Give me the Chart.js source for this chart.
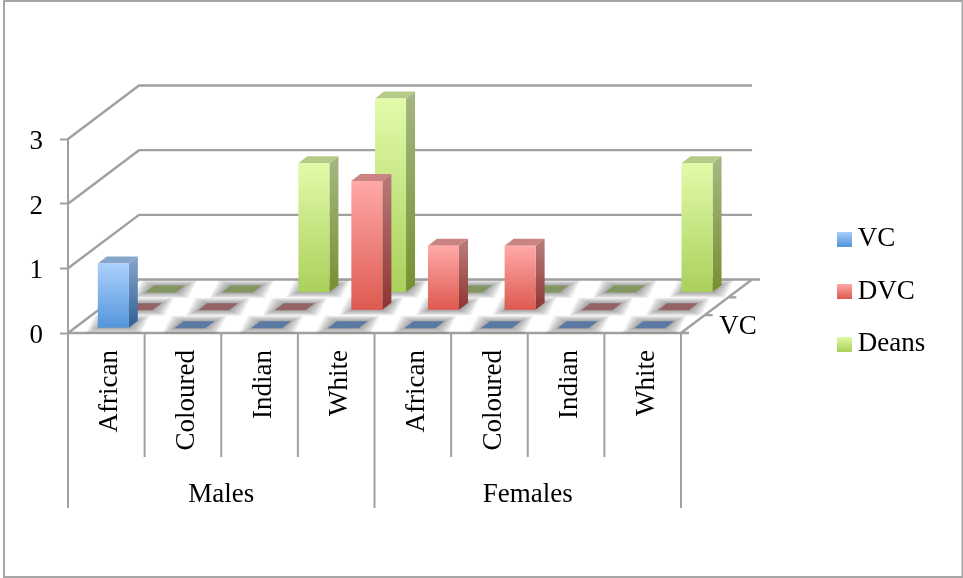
<!DOCTYPE html>
<html>
<head>
<meta charset="utf-8">
<title>Leadership by race and gender</title>
<script src="https://cdn.jsdelivr.net/npm/chart.js@4/dist/chart.umd.js"></script>
<style>
    html, body { margin: 0; padding: 0; background: #fff; }
    #wrap { width: 963px; height: 578px; position: relative; }
</style>
</head>
<body>
<div id="wrap"><canvas id="chart"></canvas></div>
<script>
const categories = ["African", "Coloured", "Indian", "White", "African", "Coloured", "Indian", "White"];
const groupLabels = ["Males", "Females"];
const yTicks = [0, 1, 2, 3];
const seriesNames = ["VC", "DVC", "Deans"];
const vcValues = [1, 0, 0, 0, 0, 0, 0, 0];
const dvcValues = [0, 0, 0, 2, 1, 1, 0, 0];
const deansValues = [0, 0, 2, 3, 0, 0, 0, 2];
const depthLabel = "VC";

const FONT = "'Liberation Serif', serif";
const FONT_SIZE = 27;
const LINE = "#a0a0a0";

// one palette per series: front face, side face, top face, flat marker
const palettes = [
    { front: ["#acd0fb", "#5495da"], side: ["#7f9fc8", "#2f6094"], top: "#87a6cc", flat: "#5b7aa3" },
    { front: ["#ffa9a8", "#dd5a50"], side: ["#b57877", "#8e3431"], top: "#c98483", flat: "#956365" },
    { front: ["#e1fba9", "#aad05c"], side: ["#a3b580", "#76902f"], top: "#b4cb88", flat: "#82965f" }
];

// floor depth of the whole chart and of one bar
const DEPTH_X = 71, DEPTH_Y = 53.5;
const BAR_DX = 9, BAR_DY = 7;

function seriesOffset(index) {
    return {
        x: 7 + index * DEPTH_X / 3,
        y: 4.8 + index * DEPTH_Y / 3
    };
}

function gradient(ctx, top, bottom, colors) {
    const g = ctx.createLinearGradient(0, top, 0, bottom);
    g.addColorStop(0, colors[0]);
    g.addColorStop(1, colors[1]);
    return g;
}

function poly(ctx, pts) {
    ctx.beginPath();
    pts.forEach((p, i) => i ? ctx.lineTo(p[0], p[1]) : ctx.moveTo(p[0], p[1]));
    ctx.closePath();
}

function legendSwatch(colors) {
    const c = document.createElement("canvas");
    c.width = 15;
    c.height = 15;
    const cx = c.getContext("2d");
    cx.fillStyle = gradient(cx, 0, 15, colors);
    cx.fillRect(0, 0, 15, 15);
    return c;
}

function barBox(el, index) {
    const off = seriesOffset(index);
    return {
        l: el.x - el.width / 2 + off.x,
        r: el.x + el.width / 2 + off.x,
        top: el.y - off.y,
        base: el.base - off.y
    };
}

const wallsAndBars = {
    id: "wallsAndBars",
    afterLayout(chart) {
        // legend sits out to the right, clear of the chart body
        const legend = chart.legend;
        const w = legend.right - legend.left;
        legend.left = 818.7;
        legend.right = legend.left + w;
        legend.top -= 37;
        legend.bottom -= 37;
    },
    beforeDraw(chart) {
        const ctx = chart.ctx;
        ctx.save();
        ctx.strokeStyle = "#a6a6a6";
        ctx.lineWidth = 2;
        ctx.strokeRect(4, 1, 958.5, 576);
        ctx.restore();
    },
    beforeDatasetsDraw(chart) {
        const ctx = chart.ctx;
        const x = chart.scales.x, y = chart.scales.y;
        const step = (x.right - x.left) / categories.length;
        const y0 = y.getPixelForValue(0);

        ctx.save();
        ctx.strokeStyle = LINE;
        ctx.lineWidth = 2.4;

        // left wall and back wall rules
        yTicks.forEach(v => {
            const py = y.getPixelForValue(v);
            ctx.beginPath();
            ctx.moveTo(x.left, py);
            ctx.lineTo(x.left + DEPTH_X, py - DEPTH_Y);
            ctx.lineTo(x.right + DEPTH_X + (v === 0 ? 8 : 0), py - DEPTH_Y);
            ctx.stroke();
        });

        // front edge, side edge and its little ticks
        ctx.beginPath();
        ctx.moveTo(x.left, y0);
        ctx.lineTo(x.right + 8, y0);
        ctx.moveTo(x.right, y0);
        ctx.lineTo(x.right + DEPTH_X, y0 - DEPTH_Y);
        for (let i = 1; i < 3; i++) {
            const tx = x.right + i * DEPTH_X / 3, ty = y0 - i * DEPTH_Y / 3;
            ctx.moveTo(tx, ty);
            ctx.lineTo(tx + 8, ty);
        }
        ctx.stroke();

        // category dividers, longer at the group edges
        ctx.lineWidth = 2;
        for (let i = 0; i <= categories.length; i++) {
            const px = x.left + i * step;
            ctx.beginPath();
            ctx.moveTo(px, y0);
            ctx.lineTo(px, i % 4 === 0 ? 508 : 457);
            ctx.stroke();
        }

        ctx.fillStyle = "#000";
        ctx.font = FONT_SIZE + "px " + FONT;
        ctx.textAlign = "center";
        ctx.textBaseline = "middle";
        ctx.fillText(depthLabel, 738, 327);

        // soft floor shadows under every bar, built from stacked translucent layers
        ctx.fillStyle = "rgba(60,60,60,0.085)";
        chart.data.datasets.forEach((ds, index) => {
            chart.getDatasetMeta(index).data.forEach(el => {
                const b = barBox(el, index);
                [12, 10, 8, 6, 4, 2, 0].forEach(s => {
                    const v = s * 0.45;
                    poly(ctx, [
                        [b.l - s, b.base + v],
                        [b.r + s, b.base + v],
                        [b.r + BAR_DX + s, b.base - BAR_DY - v],
                        [b.l + BAR_DX - s, b.base - BAR_DY - v]
                    ]);
                    ctx.fill();
                });
            });
        });
        ctx.restore();
    },
    // each series is drawn as prisms on its own row of the floor
    beforeDatasetDraw(chart, args) {
        const ctx = chart.ctx;
        const index = args.index;
        const pal = palettes[index];
        ctx.save();
        args.meta.data.forEach(el => {
            const b = barBox(el, index);
            if (b.base - b.top < 1) {
                ctx.fillStyle = pal.flat;
                poly(ctx, [[b.l, b.base], [b.r, b.base], [b.r + BAR_DX, b.base - BAR_DY], [b.l + BAR_DX, b.base - BAR_DY]]);
                ctx.fill();
                return;
            }
            ctx.fillStyle = gradient(ctx, b.top, b.base, pal.side);
            poly(ctx, [[b.r, b.top], [b.r + BAR_DX, b.top - BAR_DY], [b.r + BAR_DX, b.base - BAR_DY], [b.r, b.base]]);
            ctx.fill();
            ctx.fillStyle = pal.top;
            poly(ctx, [[b.l, b.top], [b.l + BAR_DX, b.top - BAR_DY], [b.r + BAR_DX, b.top - BAR_DY], [b.r, b.top]]);
            ctx.fill();
            ctx.fillStyle = gradient(ctx, b.top, b.base, pal.front);
            ctx.fillRect(b.l, b.top, b.r - b.l, b.base - b.top);
        });
        ctx.restore();
        return false;
    }
};

new Chart(document.getElementById("chart"), {
    type: "bar",
    plugins: [wallsAndBars],
    data: {
        labels: categories,
        datasets: [
            { label: seriesNames[0], data: vcValues, order: 1 },
            { label: seriesNames[1], data: dvcValues, order: 2 },
            { label: seriesNames[2], data: deansValues, order: 3 }
        ]
    },
    options: {
        responsive: true,
        maintainAspectRatio: false,
        animation: false,
        grouped: false,
        barPercentage: 0.405,
        categoryPercentage: 1,
        layout: { padding: { left: 0, top: 139, right: 165.5, bottom: 60 } },
        font: { family: FONT },
        plugins: {
            tooltip: { enabled: false },
            legend: {
                position: "right",
                labels: {
                    color: "#000",
                    font: { family: FONT, size: FONT_SIZE },
                    usePointStyle: true,
                    boxWidth: 0.01,
                    padding: 25.5,
                    generateLabels(c) {
                        return c.data.datasets.map((ds, i) => ({
                            text: ds.label,
                            fontColor: "#000",
                            datasetIndex: i,
                            lineWidth: 0,
                            pointStyle: legendSwatch(palettes[i].front)
                        }));
                    }
                }
            }
        },
        scales: {
            x: {
                weight: 0,
                grid: { display: false, drawTicks: false },
                border: { display: false },
                afterFit(scale) { scale.height = 125; },
                ticks: {
                    color: "#000",
                    font: { family: FONT, size: FONT_SIZE },
                    autoSkip: false,
                    minRotation: 90,
                    maxRotation: 90,
                    padding: 17,
                    labelOffset: 4
                }
            },
            groups: {
                type: "category",
                axis: "x",
                position: "bottom",
                weight: 1,
                labels: groupLabels,
                offset: true,
                grid: { display: false, drawTicks: false },
                border: { display: false },
                afterFit(scale) { scale.height = 60; },
                ticks: {
                    color: "#000",
                    font: { family: FONT, size: FONT_SIZE },
                    autoSkip: false,
                    maxRotation: 0,
                    padding: 21
                }
            },
            y: {
                min: 0,
                max: 3,
                grid: { drawOnChartArea: false, tickLength: 8, tickColor: LINE, tickWidth: 2 },
                border: { color: LINE, width: 2 },
                afterFit(scale) { scale.width = 68; },
                afterBuildTicks(scale) { scale.ticks = yTicks.map(v => ({ value: v })); },
                ticks: {
                    color: "#000",
                    font: { family: FONT, size: FONT_SIZE },
                    padding: 17,
                    labelOffset: 3
                }
            }
        }
    }
});
</script>
</body>
</html>
